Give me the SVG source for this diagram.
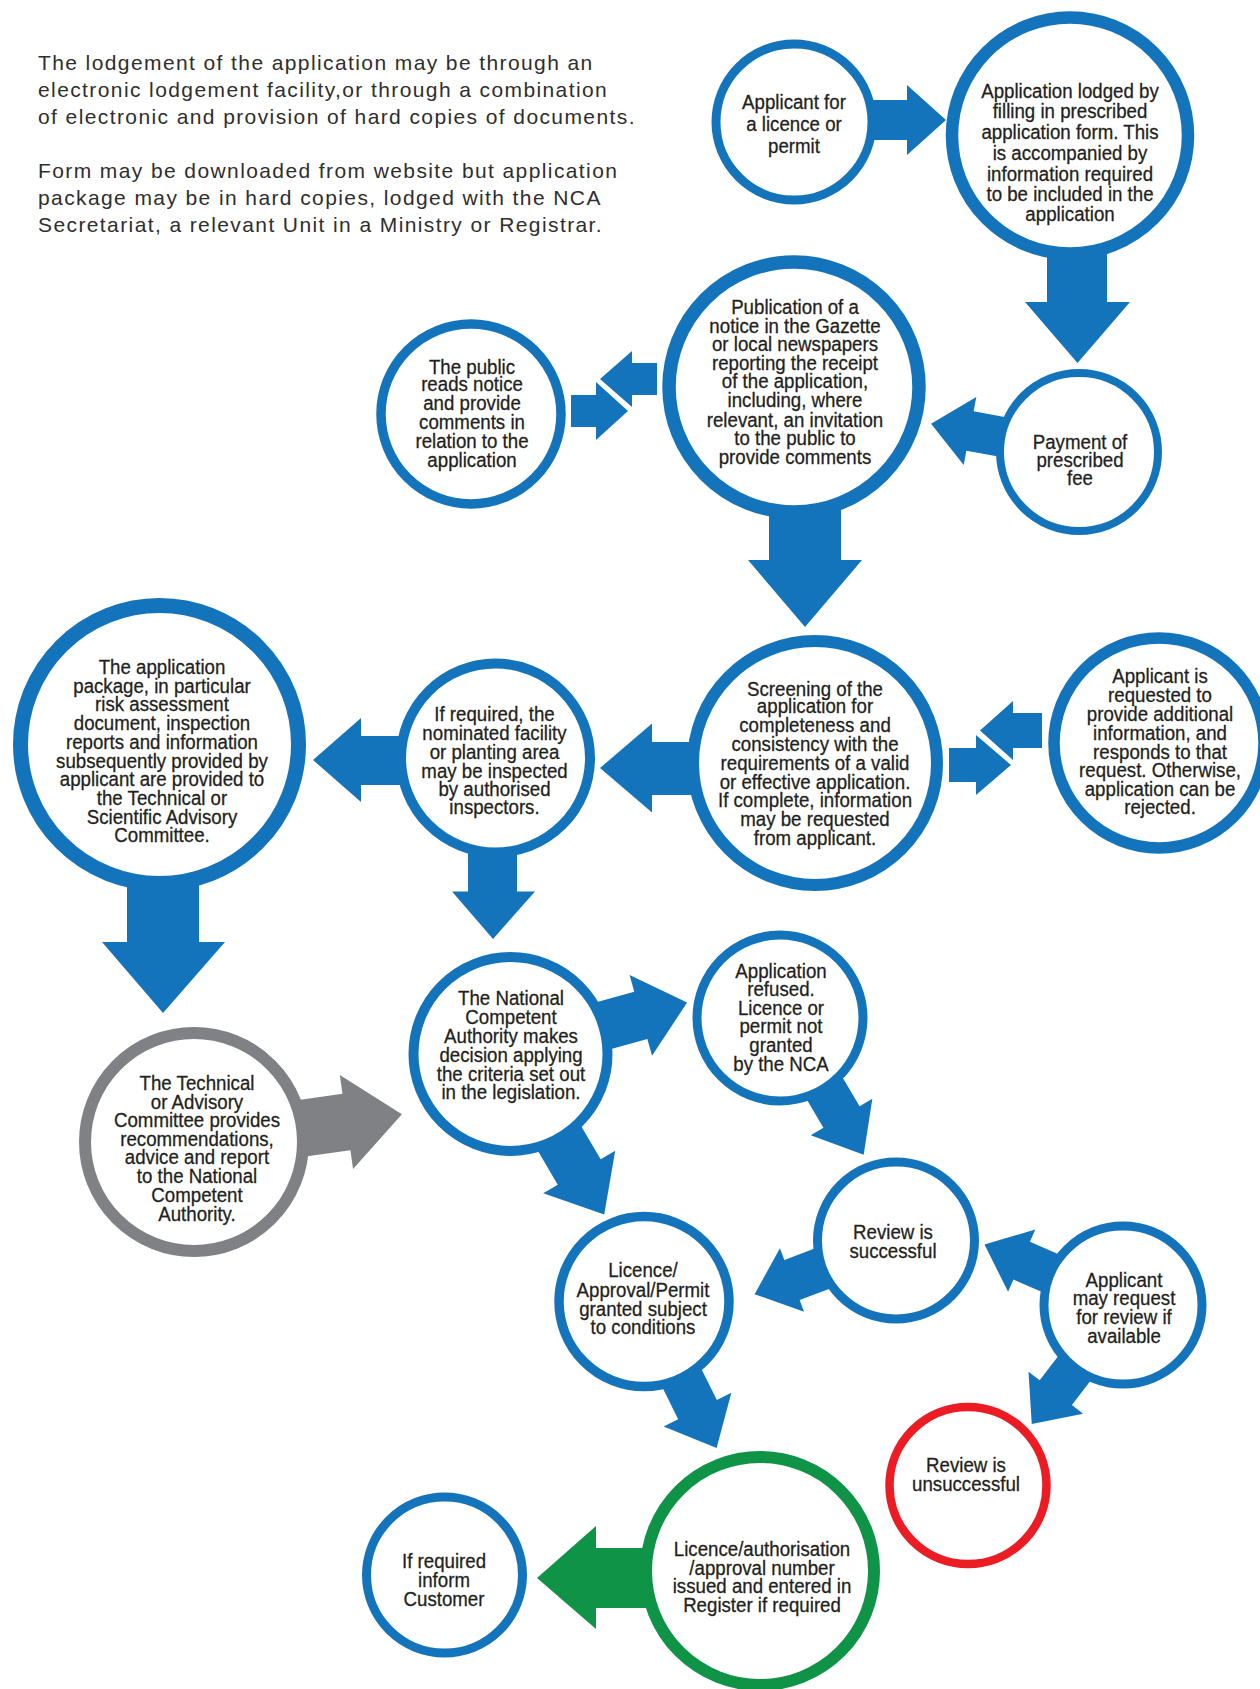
<svg xmlns="http://www.w3.org/2000/svg" width="1260" height="1689" viewBox="0 0 1260 1689">
<style>
.bg{fill:#ffffff}
.intro{font-family:"Liberation Sans",Arial,sans-serif;font-size:21px;letter-spacing:1.4px;fill:#2e2e2e}
.n{fill:#ffffff;stroke:#1474BB}
.gray{stroke:#808184}
.red{stroke:#EC1C24}
.green{stroke:#0F9447}
.t{font-family:"Liberation Sans",Arial,sans-serif;font-size:21px;fill:#231F20;stroke:#231F20;stroke-width:0.3px;text-anchor:middle}
.ab{fill:#1474BB}
.ag{fill:#808184}
.agr{fill:#0F9447}
</style>
<rect class="bg" x="0" y="0" width="1260" height="1689"/>
<g id="intro-text">
<text class="intro"><tspan x="38" y="70">The lodgement of the application may be through an</tspan><tspan x="38" y="97">electronic lodgement facility,or through a combination</tspan><tspan x="38" y="124">of electronic and provision of hard copies of documents.</tspan><tspan x="38" y="178">Form may be downloaded from website but application</tspan><tspan x="38" y="205">package may be in hard copies, lodged with the NCA</tspan><tspan x="38" y="232">Secretariat, a relevant Unit in a Ministry or Registrar.</tspan></text>
</g>
<g id="connectors">
<polygon class="ab" points="860,100 907,100 907,85 946,120 907,155 907,140 860,140"/>
<polygon class="ab" points="1047,245 1107,245 1107,302 1130,302 1077.5,363 1025,302 1047,302"/>
<polygon class="ab" transform="translate(970,431) rotate(190.5)" points="-45,-20 0,-20 0,-34.5 39.6,0 0,34.5 0,20 -45,20"/>
<polygon class="ab" points="657,363 632,363 632,351 600,379 632,407 632,395 657,395"/>
<polygon class="ab" points="571,395 596,395 596,382 628,411 596,440 596,427 571,427"/>
<polygon class="ab" points="769,505 841,505 841,560 862,560 805,627 748,560 769,560"/>
<polygon class="ab" points="1042,713 1013,713 1013,701 980,730.5 1013,760 1013,748 1042,748"/>
<polygon class="ab" points="949,748 976,748 976,735 1011,765 976,795 976,782 949,782"/>
<polygon class="ab" points="700,742 652,742 652,723.5 600,768 652,812.5 652,795 700,795"/>
<polygon class="ab" points="405,736 361,736 361,718 313,760 361,802 361,785 405,785"/>
<polygon class="ab" points="127,875 199,875 199,942 225,942 163,1013 102,942 127,942"/>
<polygon class="ab" points="468,845 517,845 517,891.5 535,891.5 493,939 452,891.5 468,891.5"/>
<polygon class="ag" transform="translate(290,1130) rotate(-8)" points="-10,-28.5 57,-28.5 57,-47.5 113,0 57,47.5 57,28.5 -10,28.5"/>
<polygon class="ab" transform="translate(640.8,1015.4) rotate(-15.5)" points="-45,-24.5 0,-24.5 0,-42 48,0 0,42 0,24.5 -45,24.5"/>
<polygon class="ab" transform="translate(579.2,1172) rotate(59.5)" points="-45,-24.9 0,-24.9 0,-41.8 49.3,0 0,41.8 0,24.9 -45,24.9"/>
<polygon class="ab" transform="translate(841.5,1117) rotate(59.5)" points="-40,-21 0,-21 0,-35.8 43.7,0 0,35.8 0,21 -40,21"/>
<polygon class="ab" transform="translate(792,1280) rotate(159.2)" points="-40,-21.5 0,-21.5 0,-34 40,0 0,34 0,21.5 -40,21.5"/>
<polygon class="ab" transform="translate(1021.7,1260.7) rotate(203.6)" points="-40,-20.6 0,-20.6 0,-34 40.6,0 0,34 0,20.6 -40,20.6"/>
<polygon class="ab" transform="translate(1055.8,1392.7) rotate(127.5)" points="-40,-20.3 0,-20.3 0,-34.4 39.5,0 0,34.4 0,20.3 -40,20.3"/>
<polygon class="ab" transform="translate(697.5,1409.6) rotate(63.6)" points="-42,-21.6 0,-21.6 0,-37.8 43,0 0,37.8 0,21.6 -42,21.6"/>
<polygon class="agr" points="650,1548 596,1548 596,1526 537,1578 596,1629 596,1608 650,1608"/>
</g>
<g id="n1"><circle class="n" cx="794" cy="122" r="78" stroke-width="9"/>
<text class="t" transform="translate(794 0) scale(0.89 1)"><tspan x="0" y="109.5">Applicant for</tspan><tspan x="0" y="131">a licence or</tspan><tspan x="0" y="152.6">permit</tspan></text></g>
<g id="n2"><circle class="n" cx="1070" cy="135.5" r="118" stroke-width="12.5"/>
<text class="t" transform="translate(1070 0) scale(0.89 1)"><tspan x="0" y="97.7">Application lodged by</tspan><tspan x="0" y="118.5">filling in prescribed</tspan><tspan x="0" y="139.3">application form. This</tspan><tspan x="0" y="159.8">is accompanied by</tspan><tspan x="0" y="180.6">information required</tspan><tspan x="0" y="201">to be included in the</tspan><tspan x="0" y="221.5">application</tspan></text></g>
<g id="n3"><circle class="n" cx="1079" cy="452" r="79" stroke-width="8"/>
<text class="t" transform="translate(1080 0) scale(0.89 1)"><tspan x="0" y="448.8">Payment of</tspan><tspan x="0" y="467.5">prescribed</tspan><tspan x="0" y="485.5">fee</tspan></text></g>
<g id="n4"><circle class="n" cx="794" cy="387" r="125" stroke-width="13.5"/>
<text class="t" transform="translate(795 0) scale(0.89 1)"><tspan x="0" y="314.2">Publication of a</tspan><tspan x="0" y="333.2">notice in the Gazette</tspan><tspan x="0" y="351.2">or local newspapers</tspan><tspan x="0" y="369.8">reporting the receipt</tspan><tspan x="0" y="388.5">of the application,</tspan><tspan x="0" y="407.5">including, where</tspan><tspan x="0" y="426.6">relevant, an invitation</tspan><tspan x="0" y="445.2">to the public to</tspan><tspan x="0" y="463.9">provide comments</tspan></text></g>
<g id="n5"><circle class="n" cx="471" cy="414" r="90" stroke-width="9.5"/>
<text class="t" transform="translate(472 0) scale(0.89 1)"><tspan x="0" y="374.1">The public</tspan><tspan x="0" y="391.4">reads notice</tspan><tspan x="0" y="410">and provide</tspan><tspan x="0" y="429">comments in</tspan><tspan x="0" y="448">relation to the</tspan><tspan x="0" y="466.8">application</tspan></text></g>
<g id="n6"><circle class="n" cx="815" cy="763" r="122" stroke-width="12"/>
<text class="t" transform="translate(815 0) scale(0.89 1)"><tspan x="0" y="695.9">Screening of the</tspan><tspan x="0" y="713.1">application for</tspan><tspan x="0" y="731.8">completeness and</tspan><tspan x="0" y="750.8">consistency with the</tspan><tspan x="0" y="770.2">requirements of a valid</tspan><tspan x="0" y="789.2">or effective application.</tspan><tspan x="0" y="807.2">If complete, information</tspan><tspan x="0" y="826.2">may be requested</tspan><tspan x="0" y="844.9">from applicant.</tspan></text></g>
<g id="n7"><circle class="n" cx="1159" cy="743" r="105" stroke-width="11.5"/>
<text class="t" transform="translate(1160 0) scale(0.89 1)"><tspan x="0" y="683.3">Applicant is</tspan><tspan x="0" y="702.3">requested to</tspan><tspan x="0" y="721">provide additional</tspan><tspan x="0" y="739.7">information, and</tspan><tspan x="0" y="758.7">responds to that</tspan><tspan x="0" y="777.4">request. Otherwise,</tspan><tspan x="0" y="796.4">application can be</tspan><tspan x="0" y="814.3">rejected.</tspan></text></g>
<g id="n8"><circle class="n" cx="495.5" cy="758" r="94.5" stroke-width="10"/>
<text class="t" transform="translate(494.5 0) scale(0.89 1)"><tspan x="0" y="721">If required, the</tspan><tspan x="0" y="740">nominated facility</tspan><tspan x="0" y="758.7">or planting area</tspan><tspan x="0" y="777.7">may be inspected</tspan><tspan x="0" y="796.4">by authorised</tspan><tspan x="0" y="814.3">inspectors.</tspan></text></g>
<g id="n9"><circle class="n" cx="159.5" cy="744.5" r="139" stroke-width="15"/>
<text class="t" transform="translate(162 0) scale(0.89 1)"><tspan x="0" y="674.3">The application</tspan><tspan x="0" y="693">package, in particular</tspan><tspan x="0" y="711.3">risk assessment</tspan><tspan x="0" y="730">document, inspection</tspan><tspan x="0" y="748.6">reports and information</tspan><tspan x="0" y="767.7">subsequently provided by</tspan><tspan x="0" y="786.3">applicant are provided to</tspan><tspan x="0" y="805">the Technical or</tspan><tspan x="0" y="824">Scientific Advisory</tspan><tspan x="0" y="842.4">Committee.</tspan></text></g>
<g id="n10"><circle class="n gray" cx="194" cy="1142" r="109" stroke-width="12"/>
<text class="t" transform="translate(197 0) scale(0.89 1)"><tspan x="0" y="1090">The Technical</tspan><tspan x="0" y="1108.8">or Advisory</tspan><tspan x="0" y="1127.5">Committee provides</tspan><tspan x="0" y="1145.7">recommendations,</tspan><tspan x="0" y="1164.4">advice and report</tspan><tspan x="0" y="1183.5">to the National</tspan><tspan x="0" y="1202.5">Competent</tspan><tspan x="0" y="1221.2">Authority.</tspan></text></g>
<g id="n11"><circle class="n" cx="510.5" cy="1054" r="97" stroke-width="10"/>
<text class="t" transform="translate(511 0) scale(0.89 1)"><tspan x="0" y="1005.4">The National</tspan><tspan x="0" y="1024.4">Competent</tspan><tspan x="0" y="1043">Authority makes</tspan><tspan x="0" y="1062">decision applying</tspan><tspan x="0" y="1080.8">the criteria set out</tspan><tspan x="0" y="1099.4">in the legislation.</tspan></text></g>
<g id="n12"><circle class="n" cx="780" cy="1018" r="83" stroke-width="9"/>
<text class="t" transform="translate(781 0) scale(0.89 1)"><tspan x="0" y="977.7">Application</tspan><tspan x="0" y="995.7">refused.</tspan><tspan x="0" y="1014.7">Licence or</tspan><tspan x="0" y="1033.4">permit not</tspan><tspan x="0" y="1052">granted</tspan><tspan x="0" y="1071">by the NCA</tspan></text></g>
<g id="n13"><circle class="n" cx="896" cy="1240.5" r="78.5" stroke-width="9"/>
<text class="t" transform="translate(893 0) scale(0.89 1)"><tspan x="0" y="1239">Review is</tspan><tspan x="0" y="1258">successful</tspan></text></g>
<g id="n14"><circle class="n" cx="1123" cy="1305" r="79" stroke-width="9"/>
<text class="t" transform="translate(1124 0) scale(0.89 1)"><tspan x="0" y="1286.9">Applicant</tspan><tspan x="0" y="1305.5">may request</tspan><tspan x="0" y="1324.2">for review if</tspan><tspan x="0" y="1343.2">available</tspan></text></g>
<g id="n15"><circle class="n" cx="644" cy="1301.6" r="85" stroke-width="9.5"/>
<text class="t" transform="translate(643 0) scale(0.89 1)"><tspan x="0" y="1277.5">Licence/</tspan><tspan x="0" y="1296.6">Approval/Permit</tspan><tspan x="0" y="1315.6">granted subject</tspan><tspan x="0" y="1334.3">to conditions</tspan></text></g>
<g id="n16"><circle class="n red" cx="968" cy="1485.5" r="78.5" stroke-width="8.5"/>
<text class="t" transform="translate(966 0) scale(0.89 1)"><tspan x="0" y="1472.5">Review is</tspan><tspan x="0" y="1491.2">unsuccessful</tspan></text></g>
<g id="n17"><circle class="n green" cx="760" cy="1571" r="114" stroke-width="12"/>
<text class="t" transform="translate(762 0) scale(0.89 1)"><tspan x="0" y="1555.8">Licence/authorisation</tspan><tspan x="0" y="1574.8">/approval number</tspan><tspan x="0" y="1593.5">issued and entered in</tspan><tspan x="0" y="1612.5">Register if required</tspan></text></g>
<g id="n18"><circle class="n" cx="444.5" cy="1575" r="78" stroke-width="9"/>
<text class="t" transform="translate(444 0) scale(0.89 1)"><tspan x="0" y="1568.4">If required</tspan><tspan x="0" y="1587.4">inform</tspan><tspan x="0" y="1606">Customer</tspan></text></g>
</svg>
